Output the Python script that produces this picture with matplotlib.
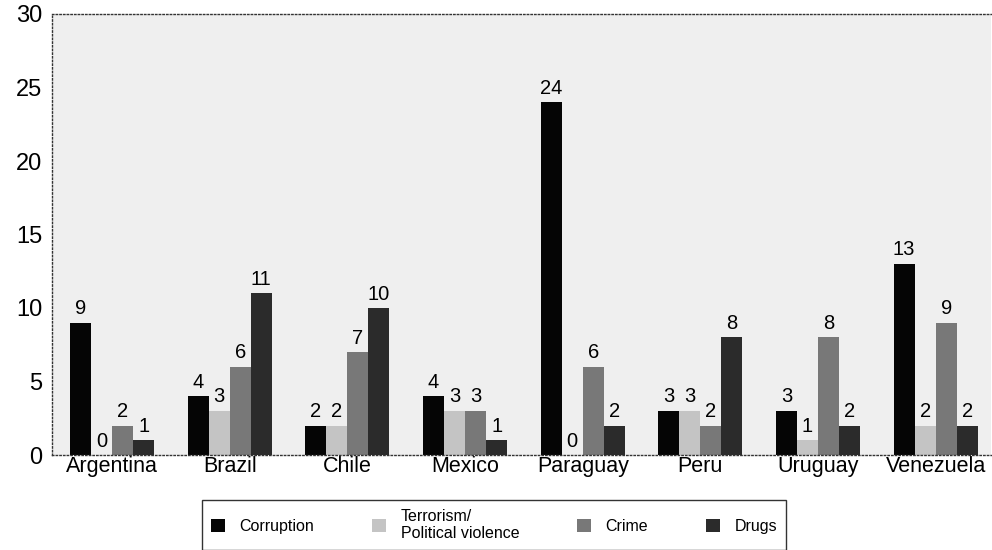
import matplotlib
matplotlib.use("Agg")
import matplotlib.pyplot as plt
import numpy as np

countries = ["Argentina", "Brazil", "Chile", "Mexico", "Paraguay", "Peru", "Uruguay", "Venezuela"]
corruption = [9, 4, 2, 4, 24, 3, 3, 13]
terrorism = [0, 3, 2, 3, 0, 3, 1, 2]
crime = [2, 6, 7, 3, 6, 2, 8, 9]
drugs = [1, 11, 10, 1, 2, 8, 2, 2]

series = [
    ("Corruption", corruption, "#050505"),
    ("Terrorism/\nPolitical violence", terrorism, "#c4c4c4"),
    ("Crime", crime, "#787878"),
    ("Drugs", drugs, "#2b2b2b"),
]

plt.rcParams["font.family"] = ["Liberation Sans", "DejaVu Sans"]

fig = plt.figure(figsize=(9.92, 5.5), dpi=100)
ax = fig.add_axes([52 / 992, 1 - 455 / 550, (991 - 52) / 992, (455 - 14) / 550])
ax.set_facecolor("#efefef")

x = np.arange(len(countries))
w = 0.179
for i, (name, vals, col) in enumerate(series):
    pos = x - 1.5 * w + i * w
    ax.bar(pos, vals, width=w, color=col, label=name, edgecolor="none", zorder=2)
    for p, v in zip(pos, vals):
        ax.text(p, v + 0.3, str(v), ha="center", va="bottom", fontsize=14.5, zorder=3)

ax.set_xlim(-0.51, 7.47)
ax.set_ylim(0, 30)
ax.set_yticks(range(0, 31, 5))
ax.set_xticks(x)
ax.set_xticklabels(countries, fontsize=15.5)
ax.tick_params(axis="y", length=0, labelsize=17, pad=7)
ax.tick_params(axis="x", length=0, pad=1)

for side in ["top", "left", "bottom"]:
    ax.spines[side].set_linestyle(":")
    ax.spines[side].set_linewidth(1.0)
    ax.spines[side].set_color("#333333")
ax.spines["right"].set_visible(False)

handles, labels = ax.get_legend_handles_labels()
leg = fig.legend(handles, labels, loc="center", bbox_to_anchor=(494 / 992, 1 - 525 / 550),
                 ncol=4, frameon=True, fancybox=False, edgecolor="black", fontsize=11.5,
                 handlelength=0.9, handleheight=0.9, columnspacing=3.6, handletextpad=0.9,
                 borderpad=0.55)
leg.get_frame().set_linewidth(1.0)

fig.savefig("out.png", dpi=100)
